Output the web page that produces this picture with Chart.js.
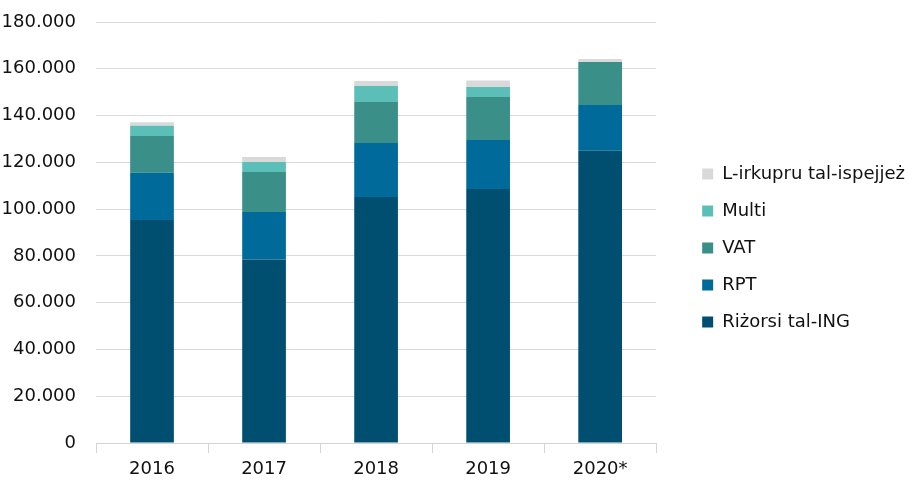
<!DOCTYPE html>
<html>
<head>
<meta charset="utf-8">
<script src="https://cdn.jsdelivr.net/npm/chart.js@4/dist/chart.umd.min.js"></script>
<style>
  html, body { margin: 0; padding: 0; background: #ffffff; }
  #wrap { width: 915px; height: 496px; position: relative; }
</style>
</head>
<body>
<div id="wrap"><canvas id="c"></canvas></div>
<script>
const categories = ['2016', '2017', '2018', '2019', '2020*'];
const seriesNames = ['Riżorsi tal-ING', 'RPT', 'VAT', 'Multi', 'L-irkupru tal-ispejjeż'];
const ingValues    = [95300, 78500, 105200, 108600, 124900];
const rptValues    = [20200, 20300, 23100, 21000, 19600];
const vatValues    = [15800, 17100, 17500, 18300, 18400];
const multiValues  = [4300, 4200, 6800, 4300, 0];
const refundValues = [1500, 2200, 2200, 2800, 1300];
const yTickLabels  = ['0', '20.000', '40.000', '60.000', '80.000', '100.000', '120.000', '140.000', '160.000', '180.000'];

const colors = ['#004F70', '#006A9B', '#3A9089', '#5CBFB7', '#D9D9D9'];
const seriesValues = [ingValues, rptValues, vatValues, multiValues, refundValues];

const FONT = 'DejaVu Sans';
const TEXT = '#111111';

new Chart(document.getElementById('c'), {
  type: 'bar',
  data: {
    labels: categories,
    datasets: seriesNames.map((name, i) => ({
      label: name,
      data: seriesValues[i],
      backgroundColor: colors[i],
      borderWidth: 0,
      barPercentage: 0.39,
      categoryPercentage: 1.0
    }))
  },
  options: {
    responsive: true,
    maintainAspectRatio: false,
    animation: false,
    layout: { padding: 0 },
    plugins: {
      tooltip: { enabled: false },
      legend: {
        position: 'right',
        reverse: true,
        maxWidth: 260,
        labels: {
          boxWidth: 11,
          boxHeight: 11,
          padding: 19,
          color: TEXT,
          font: { family: FONT, size: 18 }
        }
      }
    },
    scales: {
      x: {
        stacked: true,
        grid: {
          display: true,
          offset: true,
          drawOnChartArea: false,
          drawTicks: true,
          tickLength: 10,
          color: '#d4d4d4'
        },
        border: { display: true, color: '#d4d4d4', width: 1 },
        ticks: { color: TEXT, font: { family: FONT, size: 18 }, padding: 6 },
        afterFit: (s) => { s.height = 53; s.paddingLeft = 0; s.paddingRight = 0; }
      },
      y: {
        stacked: true,
        min: 0,
        max: 180000,
        grid: { color: '#d9d9d9', drawTicks: false },
        border: { display: false },
        ticks: {
          stepSize: 20000,
          padding: 20,
          color: TEXT,
          font: { family: FONT, size: 18 },
          callback: (v, idx) => yTickLabels[idx]
        },
        afterFit: (s) => { s.width = 96; s.paddingTop = 22; s.paddingBottom = 0; }
      },
      gap: {
        position: 'right',
        display: true,
        grid: { display: false },
        border: { display: false },
        ticks: { display: false },
        afterFit: (s) => { s.width = 27; s.paddingTop = 0; s.paddingBottom = 0; }
      }
    }
  }
});
</script>
</body>
</html>
